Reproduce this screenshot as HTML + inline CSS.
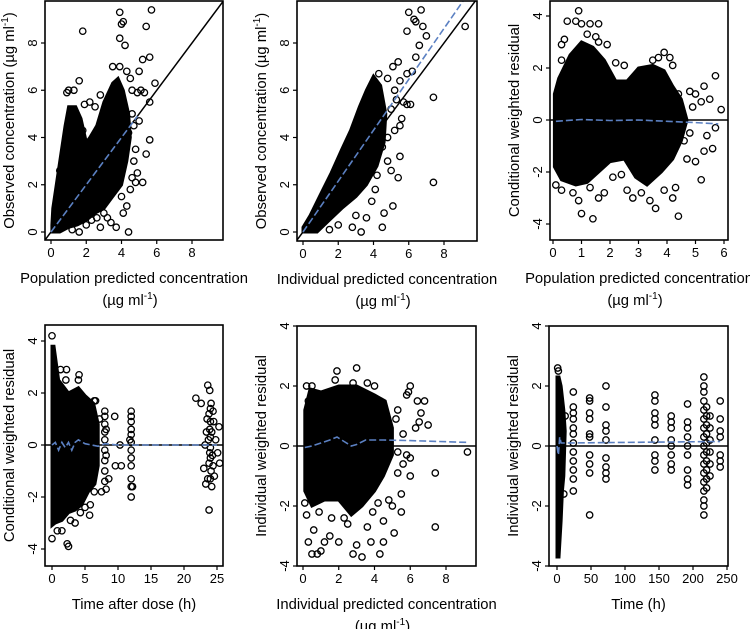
<!DOCTYPE html>
<html><head><meta charset="utf-8"><style>
html,body{margin:0;padding:0;background:#fff}
svg{display:block;font-family:"Liberation Sans",Arial,sans-serif}
</style></head><body>
<svg id="chart" width="750" height="629" viewBox="0 0 750 629" xmlns="http://www.w3.org/2000/svg"></svg>
<script>
// ---------- Panel 1: observed vs population predicted ----------
const p1Dense=[[0.05,0],[0.5,0],[1,0.2],[1.5,0.3],[2,0.5],[2.5,0.8],[3,1],[3.5,1.5],[4,2],[4.3,3],[4.5,4],[4.4,5],[4.1,6],[3.8,6.5],[3.5,6.3],[3,5.5],[2.6,4.5],[2.2,4],[2,3.8],[1.7,4.8],[1.4,5.3],[1.0,5.3],[0.8,4.5],[0.5,3],[0.3,2],[0.1,1],[0.05,0.3]];
const p1Points=[[1.8,8.5],[3.9,9.3],[4.0,8.8],[4.1,8.9],[3.9,8.2],[4.2,7.9],[5.7,9.4],[5.4,8.7],[5.6,7.4],[5.2,7.3],[5.9,6.3],[5.0,6.8],[5.1,6.0],[4.9,5.9],[5.3,5.9],[5.6,5.5],[5.0,4.7],[5.6,3.9],[5.4,3.3],[5.2,2.1],[4.8,2.1],[4.6,2.3],[4.5,1.8],[4.3,1.1],[4.1,0.8],[4.4,0.0],[3.7,0.2],[2.8,0.2],[3.2,0.6],[1.6,6.4],[1.3,6.0],[1.0,6.0],[0.9,5.9],[1.9,5.4],[2.2,5.5],[1.8,4.3],[0.5,2.6],[4.7,4.5],[4.8,3.5],[4.9,2.5],[4.6,5.0],[4.3,6.8],[4.5,6.5],[3.5,7.0],[3.9,7.0],[2.5,5.3],[2.8,5.8],[2.3,0.5],[1.2,0.1],[1.6,0.0],[2.0,0.3],[3.4,0.4],[3.0,0.8],[4.0,1.5],[2.6,0.6],[1.4,1.0],[4.6,6.0],[4.4,4.2],[4.7,3.0]];
const p1Trend=[[0,0],[4.9,4.9]];
// ---------- Panel 2: observed vs individual predicted ----------
const p2Dense=[[0,0],[0.8,0],[1.5,0.5],[2.2,1.0],[3,1.5],[3.6,2.0],[4.2,2.8],[4.6,3.8],[4.7,5],[4.4,6.2],[4.0,6.6],[3.6,6.0],[3.2,5.3],[2.7,4.3],[2.2,3.5],[1.6,2.5],[1.0,1.6],[0.4,0.7],[0,0.2]];
const p2Points=[[6.0,9.3],[6.3,9.0],[6.4,8.9],[6.7,9.4],[5.9,8.5],[6.8,8.7],[7.0,8.3],[9.2,8.7],[6.6,7.9],[6.4,7.4],[5.4,7.2],[5.1,7.0],[6.2,6.8],[5.9,6.7],[5.5,6.4],[5.7,5.5],[5.9,5.4],[6.1,5.4],[5.3,5.6],[5.6,4.8],[5.5,4.5],[7.4,5.7],[7.4,2.1],[5.5,3.2],[5.4,2.3],[5.0,2.6],[4.8,3.0],[4.5,3.6],[4.8,4.0],[4.2,2.4],[4.1,1.8],[3.9,1.3],[5.1,1.1],[4.5,0.2],[4.6,0.8],[3.3,0.0],[2.8,0.2],[3.0,0.7],[2.0,0.3],[1.5,0.1],[3.6,0.6],[5.2,4.3],[5.0,5.2],[4.3,6.7],[4.8,6.5],[5.2,6.0]];
const p2Trend=[[0,0],[9.1,9.8]];
// ---------- Panel 3: CWRES vs population predicted ----------
const p3Dense=[[0.05,-1.8],[0.3,-2.3],[0.8,-2.5],[1.2,-2.4],[1.6,-2.0],[2.0,-1.6],[2.5,-1.5],[2.9,-2.2],[3.3,-2.5],[3.8,-2.0],[4.2,-1.5],[4.5,-0.8],[4.7,0],[4.5,0.8],[4.2,1.3],[3.9,1.9],[3.5,2.1],[3.0,2.0],[2.6,1.5],[2.2,1.5],[1.8,2.3],[1.4,2.8],[1.0,3.0],[0.6,2.5],[0.2,1.6],[0.05,1.0]];
const p3Points=[[0.9,4.2],[0.5,3.8],[0.8,3.8],[1.0,3.7],[1.3,3.7],[1.6,3.7],[1.2,3.3],[1.5,3.2],[0.4,3.1],[0.3,2.9],[1.9,2.9],[1.6,3.0],[0.3,2.3],[2.2,2.2],[2.5,2.1],[3.7,2.4],[3.9,2.6],[4.1,2.4],[4.2,2.1],[3.5,2.3],[4.4,1.0],[4.8,1.1],[5.0,1.0],[5.3,1.3],[5.7,1.7],[5.5,0.8],[5.9,0.4],[5.2,0.7],[5.7,-0.3],[5.6,-1.1],[5.3,-1.2],[5.0,-1.6],[5.2,-2.3],[4.7,-1.5],[4.4,-3.7],[4.2,-3.0],[4.3,-2.6],[3.9,-2.7],[3.6,-3.4],[3.4,-3.1],[3.1,-2.8],[2.8,-3.0],[2.6,-2.7],[2.1,-2.2],[1.8,-2.8],[1.6,-3.0],[1.4,-3.8],[1.0,-3.6],[0.9,-3.1],[0.7,-2.8],[0.3,-2.7],[0.1,-2.5],[1.3,-2.6],[2.4,-2.1],[4.6,-0.8],[5.4,-0.6],[4.9,0.5],[4.8,-0.5]];
const p3Trend=[[0.1,-0.05],[1,0.02],[2,-0.02],[3,0],[4,-0.05],[5,-0.1],[5.8,-0.15]];
// ---------- Panel 4: CWRES vs time after dose ----------
const p4Dense=[[0,-3.1],[0.5,-3.0],[1.5,-2.9],[2.5,-2.6],[3.5,-2.5],[4.5,-2.3],[5.5,-1.8],[6.5,-1.5],[7,-0.8],[7,0.8],[6.3,1.6],[5,1.9],[4,2.2],[2.5,2.0],[1,2.5],[0.3,3.8],[0,3.8]];
const p4Points=[[0,4.2],[0,-3.6],[0.8,-3.3],[1.5,-3.3],[2.3,-3.8],[2.5,-3.9],[2.8,-2.9],[3.5,-3.0],[4.3,-2.6],[5,-2.4],[5.7,-2.7],[5.8,-2.3],[6.4,-1.8],[7.5,-1.8],[8.2,-1.7],[8.6,-1.3],[9.6,-0.8],[10.5,-0.8],[9.5,1.1],[7.2,1.0],[6.4,1.7],[6.6,1.7],[4.1,2.7],[4.0,2.5],[2.2,2.9],[2.1,2.5],[1.3,2.9],[10.3,0.0],[8,1.3],[8,1.1],[8,0.8],[8,0.5],[8,0.2],[8,-0.2],[8,-0.6],[8,-1.0],[8,-1.4],[8.2,0.6],[8.2,-0.4],[12,1.3],[12,1.1],[12,0.9],[12,0.6],[12,0.4],[12,0.1],[12,-0.2],[12,-0.5],[12,-0.8],[12,-1.3],[12,-1.6],[12,-2.0],[12.2,-1.6],[11.8,0.2],[21.8,1.8],[22.6,1.6],[23,-0.9],[23.4,0.5],[23.6,2.3],[23.9,2.1],[24.1,1.6],[23.8,1.2],[24,0.9],[24.2,0.5],[23.7,0.2],[24,-0.1],[24.3,-0.4],[23.8,-0.7],[24.1,-1.0],[23.6,-1.3],[24.2,-1.6],[23.8,-2.5],[25.3,0.7],[25.4,-0.7],[25.1,-0.3],[24.6,-1.2],[24.5,0.9],[24.8,0.2],[23.3,-1.5],[23.5,1.0],[23.2,0.0],[24.4,1.3],[24.4,-0.8],[23.9,0.6],[23.9,-0.3],[24,0.3],[24,-0.5],[24,1.4],[24,-1.3]];
const p4Trend=[[0,0],[0.5,0.1],[1,-0.2],[1.5,0.1],[2,-0.1],[2.5,0.1],[3,-0.2],[3.5,0.1],[4,0.2],[5,0.05],[6,0],[7,-0.05],[8,0.05],[10,0],[25,0]];
// ---------- Panel 5: IWRES vs individual predicted ----------
const p5Dense=[[0.1,-1.5],[0.5,-2.0],[1.2,-1.8],[2.0,-1.8],[2.7,-2.3],[3.3,-2.0],[4.0,-1.5],[4.5,-1.0],[5.0,-0.3],[5.0,0.6],[4.6,1.5],[4.0,1.7],[3.0,2.0],[2.0,2.0],[1.0,1.8],[0.4,1.9],[0.1,1.2]];
const p5Points=[[1.9,2.5],[3.0,2.6],[1.8,2.2],[2.8,2.1],[3.6,2.1],[4.0,2.0],[0.5,2.0],[6.0,2.0],[5.9,1.8],[5.8,1.7],[6.4,1.5],[6.8,1.5],[6.6,1.1],[6.5,0.8],[7.0,0.7],[6.3,0.6],[5.6,0.4],[5.3,1.2],[9.2,-0.2],[6.0,-0.4],[5.8,-0.3],[5.6,-0.6],[6.0,-1.0],[5.3,-0.9],[5.5,-1.6],[5.5,-2.2],[7.4,-0.9],[7.4,-2.7],[5.0,-2.0],[4.8,-1.8],[4.5,-2.5],[4.3,-3.6],[4.5,-3.2],[5.1,-2.9],[3.8,-3.2],[3.6,-2.7],[3.3,-3.7],[3.0,-3.3],[2.8,-3.6],[2.5,-2.6],[2.0,-3.2],[1.5,-3.0],[1.2,-3.2],[0.8,-3.6],[0.5,-3.6],[1.0,-3.5],[0.3,-3.2],[0.6,-2.8],[0.2,-2.3],[0.9,-2.2],[1.6,-2.4],[2.3,-2.4],[3.9,-2.2],[4.2,-1.9],[0.1,-1.9],[0.3,1.5],[0.2,2.0],[5.2,0.9],[5.3,-0.2]];
const p5Trend=[[0.1,-0.05],[0.5,0.0],[1.0,0.1],[1.5,0.2],[1.9,0.3],[2.3,0.15],[2.7,0.0],[3.0,0.05],[3.5,0.2],[4.5,0.2],[6,0.18],[9.2,0.12]];
// ---------- Panel 6: IWRES vs time ----------
const p6Dense=[[0,-3.7],[3,-3.7],[6,-2.5],[8,-1.5],[10,-1.0],[12,0.5],[10,1.2],[6,2.0],[3,2.3],[0,2.3]];
const p6ColTimes=[24,48,72,144,168,192,216,220,225,240];
const p6ColValues=[[1.8,1.3,1.1,0.9,0.6,0.4,0.1,-0.2,-0.5,-0.8,-1.1,-1.5],[1.6,1.5,1.1,0.9,0.4,0.3,-0.3,-0.6,-0.9,-2.3],[2.0,1.3,0.7,0.5,0.2,-0.4,-0.7,-0.9,-1.1],[1.7,1.5,1.1,0.9,0.7,0.2,-0.3,-0.5,-0.8],[1.0,0.8,0.6,0.2,0.0,-0.3,-0.6,-0.8],[1.4,0.8,0.6,0.3,0.0,-0.3,-0.8,-1.1,-1.3],[2.3,2.0,1.8,1.5,1.2,0.9,0.6,0.3,0.0,-0.3,-0.6,-0.9,-1.2,-1.5,-1.8,-2.0,-2.3],[1.3,1.0,0.7,0.4,0.1,-0.2,-0.5,-0.8,-1.1,-1.4],[1.0,0.6,0.2,-0.2,-0.6,-1.0],[1.5,0.9,0.5,0.3,-0.3,-0.5,-0.7]];
const p6Points=[[1,2.6],[2,2.5],[12,1.0],[10,-1.6]];
const p6Trend=[[0,0],[2,-0.3],[4,0.3],[6,0.1],[10,0.1],[240,0.15]];
// ---------- tick labels ----------
const concTicks=[0,2,4,6,8];
const residTicks=[4,2,0,-2,-4];
const pred6Ticks=[0,1,2,3,4,5,6];
const tadTicks=[0,5,10,15,20,25];
const timeTicks=[0,50,100,150,200,250];

const NS="http://www.w3.org/2000/svg";
const svg=document.getElementById('chart');
function mk(tag,attrs,parent){const e=document.createElementNS(NS,tag);for(const k in attrs)e.setAttribute(k,attrs[k]);(parent||svg).appendChild(e);return e;}

function panel(cfg){
  const g=mk('g',{});
  
  
  const sx=v=>cfg.px0+(v-cfg.x0)*(cfg.px1-cfg.px0)/(cfg.x1-cfg.x0);
  const sy=v=>cfg.py0+(v-cfg.y0)*(cfg.py1-cfg.py0)/(cfg.y1-cfg.y0);
  const id='clip-'+cfg.name;
  const cp=mk('clipPath',{id:id},g);mk('rect',{x:cfg.L,y:cfg.T,width:cfg.R-cfg.L,height:cfg.B-cfg.T},cp);
  const plot=mk('g',{'clip-path':'url(#'+id+')'},g);
  const d=cfg.dense.map((p,i)=>(i?'L':'M')+sx(p[0]).toFixed(1)+','+sy(p[1]).toFixed(1)).join('')+'Z';
  const dn=mk('path',{d:d,fill:'#000',stroke:'#000','stroke-width':3},plot);
  
  
  cfg.points.forEach(p=>{
    const c=mk('circle',{cx:sx(p[0]),cy:sy(p[1]),r:3.2,fill:'none',stroke:'#000','stroke-width':1.3},plot);
    
    
  });
  let ref;
  if(cfg.identity) ref=mk('line',{x1:sx(-1),y1:sy(-1),x2:sx(12),y2:sy(12),stroke:'#000','stroke-width':1.5},plot);
  else ref=mk('line',{x1:cfg.L,y1:sy(0),x2:cfg.R,y2:sy(0),stroke:'#000','stroke-width':1.5},plot);
  
  
  const tl=mk('polyline',{points:cfg.trend.map(p=>sx(p[0]).toFixed(1)+','+sy(p[1]).toFixed(1)).join(' '),fill:'none',stroke:'#5b80c2','stroke-width':1.6,'stroke-dasharray':'7,3'},plot);
  
  
  const box=mk('rect',{x:cfg.L,y:cfg.T,width:cfg.R-cfg.L,height:cfg.B-cfg.T,fill:'none',stroke:'#000','stroke-width':1.6},g);
  
  
  cfg.xt.forEach(v=>{
    mk('line',{x1:sx(v),x2:sx(v),y1:cfg.B,y2:cfg.B+4,stroke:'#000','stroke-width':1.2},g);
    const t=mk('text',{x:sx(v),y:cfg.B+17,'text-anchor':'middle','font-size':13},g);t.textContent=v;
    
    
  });
  cfg.yt.forEach(v=>{
    mk('line',{x1:cfg.L-4,x2:cfg.L,y1:sy(v),y2:sy(v),stroke:'#000','stroke-width':1.2},g);
    const x=cfg.L-8,y=sy(v);
    const t=mk('text',{x:x,y:y,'text-anchor':'middle','font-size':13,transform:'rotate(-90 '+x+' '+y+')'},g);t.textContent=v;
    
    
  });
  const yx=cfg.L-31,yy=(cfg.T+cfg.B)/2;
  const yt=mk('text',{x:yx,y:yy,'text-anchor':'middle','font-size':14.8,transform:'rotate(-90 '+yx+' '+yy+')'},g);
  yt.innerHTML=cfg.ytitle;
  
  
  const cx=(cfg.L+cfg.R)/2;
  cfg.xtitle.forEach((s,i)=>{
    const t=mk('text',{x:cx+(i?-4:0),y:cfg.B+43+i*22,'text-anchor':'middle','font-size':14.8},g);
    t.innerHTML=s;
    
    
  });
}
const unit='(µg ml<tspan font-size="10" dy="-6">-1</tspan><tspan dy="6">)</tspan>';
const obsT='Observed concentration (µg ml<tspan font-size="10" dy="-6">-1</tspan><tspan dy="6">)</tspan>';
const p6All=p6Points.slice();
p6ColTimes.forEach((t,i)=>p6ColValues[i].forEach(v=>p6All.push([t,v])));

panel({name:'panel-obs-vs-pred',L:45,R:223,T:1,B:240,x0:0,x1:8,px0:51,px1:192,y0:0,y1:8,py0:232,py1:43,dense:p1Dense,points:p1Points,trend:p1Trend,identity:true,xt:concTicks,yt:concTicks,ytitle:obsT,xtitle:['Population predicted concentration',unit]});
panel({name:'panel-obs-vs-ipred',L:297,R:477,T:1,B:241,x0:0,x1:8,px0:303,px1:444,y0:0,y1:8,py0:232,py1:43,dense:p2Dense,points:p2Points,trend:p2Trend,identity:true,xt:concTicks,yt:concTicks,ytitle:obsT,xtitle:['Individual predicted concentration',unit]});
panel({name:'panel-cwres-vs-pred',L:550,R:728,T:1,B:240,x0:0,x1:6,px0:553,px1:724,y0:4,y1:-4,py0:16,py1:224,dense:p3Dense,points:p3Points,trend:p3Trend,identity:false,xt:pred6Ticks,yt:residTicks,ytitle:'Conditional weighted residual',xtitle:['Population predicted concentration',unit]});
panel({name:'panel-cwres-vs-tad',L:45,R:223,T:325,B:566,x0:0,x1:25,px0:52,px1:217,y0:4,y1:-4,py0:341,py1:549,dense:p4Dense,points:p4Points,trend:p4Trend,identity:false,xt:tadTicks,yt:residTicks,ytitle:'Conditional weighted residual',xtitle:['Time after dose (h)']});
panel({name:'panel-iwres-vs-ipred',L:297,R:476,T:326,B:566,x0:0,x1:8,px0:303,px1:446,y0:4,y1:-4,py0:326,py1:566,dense:p5Dense,points:p5Points,trend:p5Trend,identity:false,xt:concTicks,yt:residTicks,ytitle:'Individual weighted residual',xtitle:['Individual predicted concentration',unit]});
panel({name:'panel-iwres-vs-time',L:549,R:728,T:326,B:566,x0:0,x1:250,px0:557,px1:727,y0:4,y1:-4,py0:326,py1:566,dense:p6Dense,points:p6All,trend:p6Trend,identity:false,xt:timeTicks,yt:residTicks,ytitle:'Individual weighted residual',xtitle:['Time (h)']});
</script>
</body></html>
